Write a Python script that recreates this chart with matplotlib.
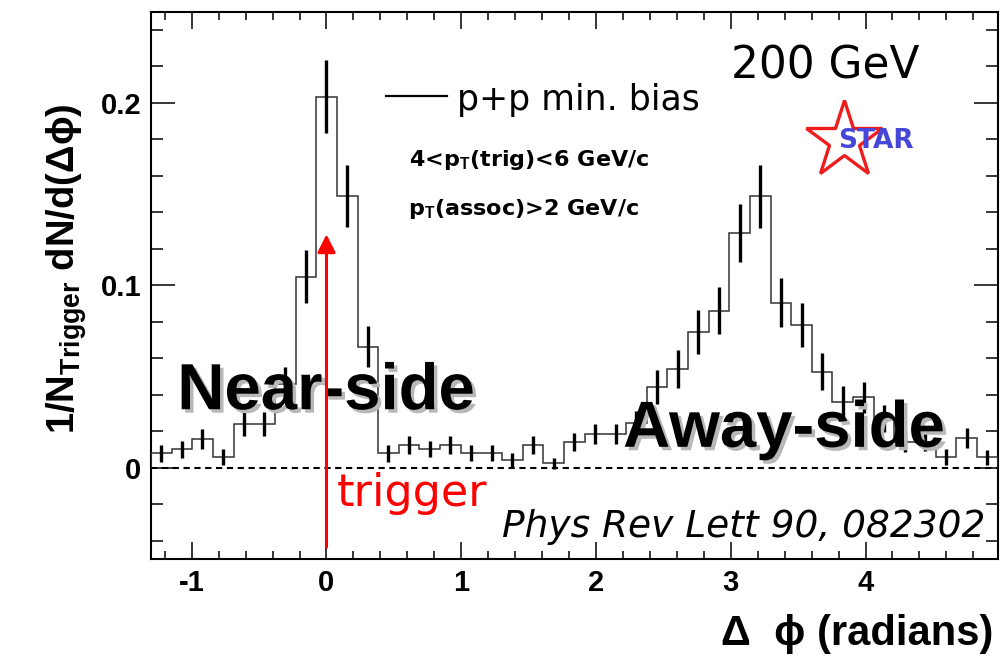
import numpy as np
import matplotlib
matplotlib.use("Agg")
import matplotlib.pyplot as plt
import matplotlib.patheffects as pe
from matplotlib.ticker import MultipleLocator, FixedLocator

plt.rcParams['font.family'] = ['Liberation Sans', 'DejaVu Sans']
plt.rcParams['mathtext.fontset'] = 'custom'
plt.rcParams['mathtext.rm'] = 'Liberation Sans'
plt.rcParams['mathtext.bf'] = 'Liberation Sans:bold'
plt.rcParams['mathtext.it'] = 'Liberation Sans:italic'
plt.rcParams['axes.unicode_minus'] = False

# Delta-phi bin centres (41 bins over 2*pi)
bin_centers = [-1.226, -1.073, -0.920, -0.766, -0.613, -0.460, -0.307, -0.153,
               0.000, 0.153, 0.307, 0.460, 0.613, 0.766, 0.920, 1.073,
               1.226, 1.379, 1.533, 1.686, 1.839, 1.992, 2.145, 2.299,
               2.452, 2.605, 2.758, 2.912, 3.065, 3.218, 3.372, 3.525,
               3.678, 3.831, 3.985, 4.138, 4.291, 4.444, 4.597, 4.751, 4.904]

# p+p min. bias: 1/N_trig dN/d(dphi)
pp_values = [0.0079, 0.0101, 0.0159, 0.0059, 0.0240, 0.0240, 0.0460, 0.1048,
             0.2033, 0.1490, 0.0664, 0.0079, 0.0125, 0.0103, 0.0125, 0.0082,
             0.0082, 0.0042, 0.0125, 0.0024, 0.0141, 0.0185, 0.0185, 0.0244,
             0.0442, 0.0542, 0.0743, 0.0862, 0.1287, 0.1487, 0.0906, 0.0783,
             0.0527, 0.0362, 0.0386, 0.0270, 0.0140, 0.0140, 0.0060, 0.0161, 0.0057]

pp_errors = [0.0045, 0.0045, 0.0055, 0.0045, 0.0065, 0.0065, 0.0090, 0.0145,
             0.0200, 0.0170, 0.0114, 0.0045, 0.0048, 0.0045, 0.0048, 0.0045,
             0.0045, 0.0040, 0.0048, 0.0030, 0.0050, 0.0055, 0.0055, 0.0065,
             0.0092, 0.0105, 0.0120, 0.0130, 0.0160, 0.0170, 0.0134, 0.0123,
             0.0103, 0.0085, 0.0085, 0.0075, 0.0055, 0.0050, 0.0045, 0.0055, 0.0040]

x_ticks = [-1, 0, 1, 2, 3, 4]
y_ticks = [0, 0.1, 0.2]

centers = np.array(bin_centers)
width = centers[1] - centers[0]
edges = np.append(centers - width / 2, centers[-1] + width / 2)

fig = plt.figure(figsize=(10.03, 6.6), dpi=100)
ax = fig.add_axes([0.1505, 0.153, 0.8442, 0.8293])

# histogram + error bars
ax.stairs(pp_values, edges, color='#333333', lw=1.1, zorder=3)
ax.errorbar(centers, pp_values, yerr=pp_errors, fmt='none', ecolor='black',
            elinewidth=2.4, capsize=0, zorder=4)
ax.axhline(0, color='black', lw=1.5, ls=(0, (3, 2.2)), zorder=2)

ax.set_xlim(edges[0], edges[-1])
ax.set_ylim(-0.05, 0.25)

ax.xaxis.set_major_locator(FixedLocator(x_ticks))
ax.xaxis.set_minor_locator(MultipleLocator(0.2))
ax.yaxis.set_major_locator(FixedLocator(y_ticks))
ax.yaxis.set_minor_locator(MultipleLocator(0.02))
ax.set_xticklabels([str(t) for t in x_ticks])
ax.set_yticklabels(['0', '0.1', '0.2'])

ax.tick_params(which='both', direction='in', top=True, right=True, width=1.1,
               labelsize=21, pad=7)
ax.tick_params(axis='x', which='major', length=12)
ax.tick_params(axis='x', which='minor', length=6)
ax.tick_params(axis='y', which='major', length=17)
ax.tick_params(axis='y', which='minor', length=8.5)
for lab in ax.get_xticklabels() + ax.get_yticklabels():
    lab.set_fontweight('bold')
for s in ax.spines.values():
    s.set_linewidth(1.5)

ax.set_xlabel('Δ  ϕ (radians)', fontsize=30, fontweight='bold', loc='right')
ax.xaxis.set_label_coords(0.995, -0.1)
ax.xaxis.label.set_va('top')
ax.set_ylabel(r'1/N$_{\mathbf{Trigger}}$ dN/d(Δϕ)', fontsize=27.5, fontweight='bold')
ax.yaxis.set_label_coords(-0.073, 0.53)

# legend entry
ax.plot([0.442, 0.892], [0.2036, 0.2036], color='black', lw=1.6)
ax.text(0.969, 0.1963, 'p+p min. bias', family='DejaVu Sans', fontsize=25,
        ha='left', va='baseline')
ax.text(0.615, 0.1652, r'4<p$_{\mathbf{T}}$(trig)<6 GeV/c', fontsize=16,
        family='DejaVu Sans', fontweight='bold', ha='left', va='baseline')
ax.text(0.605, 0.1387, r'p$_{\mathbf{T}}$(assoc)>2 GeV/c', fontsize=16,
        family='DejaVu Sans', fontweight='bold', ha='left', va='baseline')

ax.text(3.0, 0.2132, '200 GeV', family='DejaVu Sans', fontsize=31.5,
        ha='left', va='baseline')

# STAR logo
ax.plot([3.84], [0.1795], marker='*', ms=58, mfc='none', mec='#ee1c1c', mew=2.4)
ax.text(4.08, 0.179, 'STAR', color='#4646d8', fontsize=19, fontweight='heavy',
        family='DejaVu Sans', ha='center', va='center')

shadow = [pe.SimplePatchShadow(offset=(2.5, -2.5), shadow_rgbFace='0.72', alpha=1),
          pe.Normal()]
ax.text(-1.107, 0.0321, 'Near-side', fontsize=47, fontweight='bold',
        ha='left', va='baseline', zorder=5, path_effects=shadow)
ax.text(2.201, 0.0115, 'Away-side', fontsize=47, fontweight='bold',
        ha='left', va='baseline', zorder=5, path_effects=shadow)

# trigger arrow
ax.annotate('', xy=(0, 0.128), xytext=(0, -0.0435),
            arrowprops=dict(arrowstyle='-|>,head_length=0.4,head_width=0.2',
                            color='red', lw=2.2, mutation_scale=27,
                            shrinkA=0, shrinkB=0), zorder=6)
ax.text(0.076, -0.021, 'trigger', color='red', family='DejaVu Sans',
        fontsize=32, ha='left', va='baseline')

ax.text(4.887, -0.0379, 'Phys Rev Lett 90, 082302', family='DejaVu Sans',
        style='italic', fontsize=27, ha='right', va='baseline')

fig.savefig('out.png', dpi=100)
